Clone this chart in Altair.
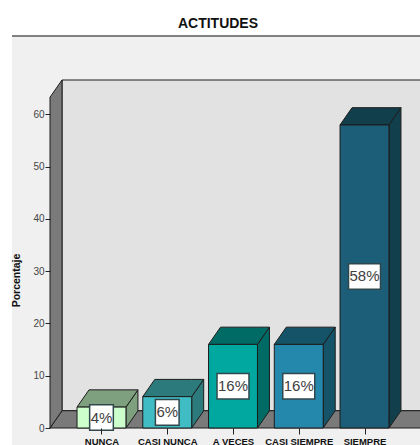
import json
import altair as alt
import pandas as pd

categories = ["NUNCA", "CASI NUNCA", "A VECES", "CASI SIEMPRE", "SIEMPRE"]
values = [4, 6, 16, 16, 58]
labels = ["4%", "6%", "16%", "16%", "58%"]
y_ticks = [0, 10, 20, 30, 40, 50, 60]

front_colors = ["#ccffcc", "#40bcc4", "#00a8a0", "#2487ac", "#1c5d78"]
shade_colors = ["#7fa07f", "#2c7a7c", "#006a64", "#155468", "#123f4c"]
outline = "#1c1c1c"

# Oblique projection of the 3D frame, in axis units
depth_x = 0.1825
depth_y = 3.3
half_bar = 0.372
x_min, x_max = -0.783, 4.844
y_max = 74.83
wall_top = 63.3

rows = []
for i, (cat, v) in enumerate(zip(categories, values)):
    a, b = i - half_bar, i + half_bar
    rows += [
        dict(face=f"side{i}", cat=cat, x=b, y=0, y2=v),
        dict(face=f"side{i}", cat=cat, x=b + depth_x, y=depth_y, y2=v + depth_y),
        dict(face=f"top{i}", cat=cat, x=a, y=v, y2=v),
        dict(face=f"top{i}", cat=cat, x=a + depth_x, y=v, y2=v + depth_y),
        dict(face=f"top{i}", cat=cat, x=b, y=v, y2=v + depth_y),
        dict(face=f"top{i}", cat=cat, x=b + depth_x, y=v + depth_y, y2=v + depth_y),
    ]
faces = pd.DataFrame(rows)

fronts = pd.DataFrame(
    [dict(cat=c, x=i - half_bar, x2=i + half_bar, y=0, y2=v)
     for i, (c, v) in enumerate(zip(categories, values))]
)

boxes = pd.DataFrame(
    [dict(label=t, x=i, mid=v / 2,
          xa=i - (0.243 if len(t) > 2 else 0.18),
          xb=i + (0.243 if len(t) > 2 else 0.18),
          ya=v / 2 - 2.45, yb=v / 2 + 2.45)
     for i, (t, v) in enumerate(zip(labels, values))]
)

floor = pd.DataFrame([
    dict(x=x_min, y=0, y2=0),
    dict(x=x_min + depth_x, y=0, y2=depth_y),
    dict(x=x_max + 0.2, y=0, y2=depth_y),
])
left_wall = pd.DataFrame([
    dict(x=x_min, y=0, y2=wall_top),
    dict(x=x_min + depth_x, y=depth_y, y2=wall_top + depth_y),
])
back_wall = pd.DataFrame([
    dict(x=x_min + depth_x, x2=x_max + 0.2, y=depth_y, y2=wall_top + depth_y)
])

x_scale = alt.Scale(domain=[x_min, x_max], nice=False, zero=False)
y_scale = alt.Scale(domain=[0, y_max], nice=False, zero=False)

# Every layer carries the same axis definition so Vega-Lite merges them into one
x_axis = alt.Axis(
    values=list(range(len(categories))),
    labelExpr=f"{json.dumps(categories)}[datum.value]",
    title=None,
    grid=False,
    domain=False,
    tickColor="#222222",
    tickSize=6,
    labelFont="Liberation Sans",
    labelFontWeight="bold",
    labelFontSize=9.5,
    labelColor="#111111",
    labelPadding=2,
    labelOverlap=False,
    labelFlush=False,
    zindex=1,
)
y_axis = alt.Axis(
    values=y_ticks,
    title="Porcentaje",
    titleFont="Liberation Sans",
    titleFontWeight="bold",
    titleFontSize=10.5,
    titleColor="#111111",
    titleX=-29,
    titleY=243,
    grid=False,
    domain=False,
    tickColor="#222222",
    tickSize=5,
    labelFont="Liberation Sans",
    labelFontSize=10,
    labelColor="#444444",
    labelPadding=1,
    zindex=1,
)

X = alt.X("x:Q", scale=x_scale, axis=x_axis)
Y = alt.Y("y:Q", scale=y_scale, axis=y_axis)
Y2 = alt.Y2("y2:Q")

panel = alt.Chart(pd.DataFrame({"a": [0]})).mark_rect(color="#f0f0f0").encode(
    x=alt.value(-38), x2=alt.value(370), y=alt.value(0), y2=alt.value(408)
)
top_line = alt.Chart(pd.DataFrame({"a": [0]})).mark_rule(color="#808080", strokeWidth=2).encode(
    x=alt.value(-38), x2=alt.value(370), y=alt.value(-1)
)

back = alt.Chart(back_wall).mark_rect(color="#e2e2e2", stroke=outline, strokeWidth=1).encode(
    x=X, x2="x2:Q", y=Y, y2=Y2
)
floor_face = alt.Chart(floor).mark_area(color="#7a7a7a", stroke=outline, strokeWidth=1).encode(
    x=X, y=Y, y2=Y2
)
left_face = alt.Chart(left_wall).mark_area(color="#7a7a7a", stroke=outline, strokeWidth=1).encode(
    x=X, y=Y, y2=Y2
)
shaded = alt.Chart(faces).mark_area(stroke=outline, strokeWidth=1).encode(
    x=X,
    y=Y,
    y2=Y2,
    detail="face:N",
    fill=alt.Fill("cat:N", scale=alt.Scale(domain=categories, range=shade_colors), legend=None),
)
front = alt.Chart(fronts).mark_rect(stroke=outline, strokeWidth=1).encode(
    x=X,
    x2="x2:Q",
    y=Y,
    y2=Y2,
    fill=alt.Fill("cat:N", scale=alt.Scale(domain=categories, range=front_colors), legend=None),
)
label_box = alt.Chart(boxes).mark_rect(fill="white", stroke="#30484c", strokeWidth=1.5).encode(
    x=alt.X("xa:Q", scale=x_scale, axis=x_axis),
    x2="xb:Q",
    y=alt.Y("ya:Q", scale=y_scale, axis=y_axis),
    y2="yb:Q",
)
label_text = alt.Chart(boxes).mark_text(
    font="Liberation Sans", fontSize=15, color="#404040", baseline="middle", align="center"
).encode(
    x=X,
    y=alt.Y("mid:Q", scale=y_scale, axis=y_axis),
    text="label:N",
)

chart = (
    alt.layer(panel, top_line, back, floor_face, left_face, shaded, front, label_box, label_text)
    .resolve_scale(fill="independent")
    .properties(
        width=370,
        height=391,
        autosize=alt.AutoSizeParams(type="none"),
        padding={"left": 50, "top": 37, "right": 0, "bottom": 17},
        title=alt.TitleParams(
            "ACTITUDES",
            anchor="middle",
            dx=-17,
            offset=4,
            font="Liberation Sans",
            fontSize=14,
            fontWeight="bold",
            color="#111111",
        ),
        background="white",
    )
    .configure_view(stroke=None)
)

chart.save("out.html", embed_options={"renderer": "svg", "actions": False})
